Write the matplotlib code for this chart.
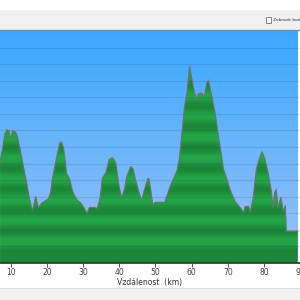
import numpy as np
import matplotlib
matplotlib.use("Agg")
import matplotlib.pyplot as plt
from matplotlib.patches import Rectangle
from matplotlib.lines import Line2D

# Distance (km) and elevation (m) read from the profile
distance_km = [7.0, 7.80, 8.35, 8.90, 9.45, 9.92, 10.47, 11.10, 11.57, 11.92,
               12.47, 13.30, 14.40, 15.22, 15.96, 16.46, 16.87, 17.28, 17.69, 18.44,
               19.34, 20.44, 20.99, 21.54, 22.64, 23.46, 23.93, 24.56, 25.11, 25.38,
               26.21, 27.03, 27.58, 28.41, 29.42, 30.33, 31.07, 31.70, 33.08, 33.90,
               34.72, 35.27, 36.29, 37.20, 38.02, 38.57, 39.04, 39.94, 40.69, 41.32,
               42.14, 43.16, 43.79, 44.53, 45.16, 45.90, 46.26, 46.81, 47.91, 48.19,
               48.65, 49.28, 49.83, 52.58, 53.21, 54.15, 55.05, 55.96, 56.62, 57.33,
               58.07, 58.71, 59.45, 60.08, 60.82, 61.45, 61.92, 62.83, 63.29, 63.57,
               64.20, 64.67, 65.57, 66.51, 67.41, 68.16, 68.79, 69.69, 70.63, 72.00,
               73.37, 74.42, 74.83, 75.79, 76.20, 77.03, 77.94, 78.87, 79.50, 80.24,
               81.15, 82.06, 82.52, 82.99, 83.43, 83.90, 84.72, 85.41, 85.96, 86.20,
               89.4]
elevation_m = [503, 554, 590, 602, 599, 575, 599, 596, 590, 575,
               548, 500, 440, 389, 359, 380, 401, 380, 368, 380,
               386, 395, 413, 458, 518, 560, 566, 548, 500, 470,
               455, 419, 404, 389, 380, 365, 350, 368, 368, 365,
               398, 455, 473, 512, 518, 512, 500, 431, 395, 419,
               464, 491, 485, 449, 425, 395, 392, 416, 455, 455,
               425, 374, 383, 383, 404, 434, 455, 479, 515, 593,
               674, 713, 794, 755, 713, 695, 710, 713, 704, 704,
               743, 752, 704, 653, 584, 533, 485, 455, 422, 386,
               368, 353, 371, 371, 353, 395, 485, 518, 536, 515,
               473, 419, 368, 413, 422, 368, 398, 356, 374, 296,
               296]
x_ticks = [10, 20, 30, 40, 50, 60, 70, 80, 90]
x_label = "Vzdálenost  (km)"
checkbox_label = "Zobrazit body"

W = H = 300
fig = plt.figure(figsize=(3, 3), dpi=100)
fig.patch.set_facecolor("white")

# top toolbar
fig.patches.append(Rectangle((0, 1 - 29.5 / H), 1, 19.5 / H, transform=fig.transFigure,
                             facecolor="#f0f0f0", edgecolor="none", zorder=0))
fig.lines.append(Line2D([0, 1], [1 - 30 / H, 1 - 30 / H], transform=fig.transFigure,
                        color="#8c8c8c", lw=1.0))
fig.patches.append(Rectangle((266 / W, 1 - 22.5 / H), 5 / W, 5 / H, transform=fig.transFigure,
                             facecolor="white", edgecolor="#555555", lw=0.5, zorder=2))
fig.text(273 / W, 1 - 20 / H, checkbox_label, fontsize=3.2, color="#333333",
         va="center", ha="left", family="DejaVu Sans")

# bottom band
fig.patches.append(Rectangle((0, 0), 1, 12 / H, transform=fig.transFigure,
                             facecolor="#f0f0f0", edgecolor="none", zorder=0))
fig.lines.append(Line2D([0, 1], [12 / H, 12 / H], transform=fig.transFigure,
                        color="#dedede", lw=0.8))

ax = fig.add_axes([0, (H - 263) / H, 1, (263 - 31) / H])
xmin, xmax = 6.98, 89.4
ymin, ymax = 200, 900
ax.set_xlim(xmin, xmax)
ax.set_ylim(ymin, ymax)

# blue sky gradient
top = np.array([58, 168, 255]) / 255
bot = np.array([155, 194, 248]) / 255
t = np.linspace(0, 1, 256)[:, None]
sky = (top * (1 - t) + bot * t)[:, None, :]
ax.imshow(sky, extent=[xmin, xmax, ymin, ymax], aspect="auto", zorder=0, origin="upper")

# green banded fill (soft bands)
yy = np.linspace(ymin, ymax, 1400)
phase = ((yy - 233) % 63) / 63.0
shade = 0.5 + 0.5 * np.cos(2 * np.pi * phase)
light = np.array([36, 166, 72]) / 255
dark = np.array([28, 134, 56]) / 255
col = light[None, :] * (1 - shade[:, None]) + dark[None, :] * shade[:, None]
# darker toward the very bottom
bottom_dark = np.clip((230 - yy) / 30, 0, 1)[:, None]
col = col * (1 - 0.25 * bottom_dark)
img = col[:, None, :]
green = ax.imshow(img, extent=[xmin, xmax, ymin, ymax], aspect="auto", zorder=1, origin="lower")
poly = ax.fill_between(distance_km, elevation_m, ymin, facecolor="none", edgecolor="none")
green.set_clip_path(poly.get_paths()[0], transform=ax.transData)

ax.plot(distance_km, elevation_m, color="#707070", lw=0.8, zorder=3)

# grid lines
for g in np.arange(250, 900, 50):
    ax.axhline(g, color=(0.15, 0.25, 0.45), alpha=0.16, lw=0.8, zorder=2)

for s in ["top", "left", "right"]:
    ax.spines[s].set_visible(False)
ax.spines["bottom"].set_color("#1d4d26")
ax.spines["bottom"].set_linewidth(1.3)
ax.spines["bottom"].set_zorder(4)

ax.set_yticks([])
ax.set_xticks(x_ticks)
ax.set_xticklabels([str(v) for v in x_ticks], fontsize=5.5, color="#444444")
ax.tick_params(axis="x", length=3, width=0.6, color="#333333", pad=0.5)
ax.set_xlabel(x_label, fontsize=5.5, color="#333333", labelpad=1.0)

fig.savefig("out.png", dpi=100)
